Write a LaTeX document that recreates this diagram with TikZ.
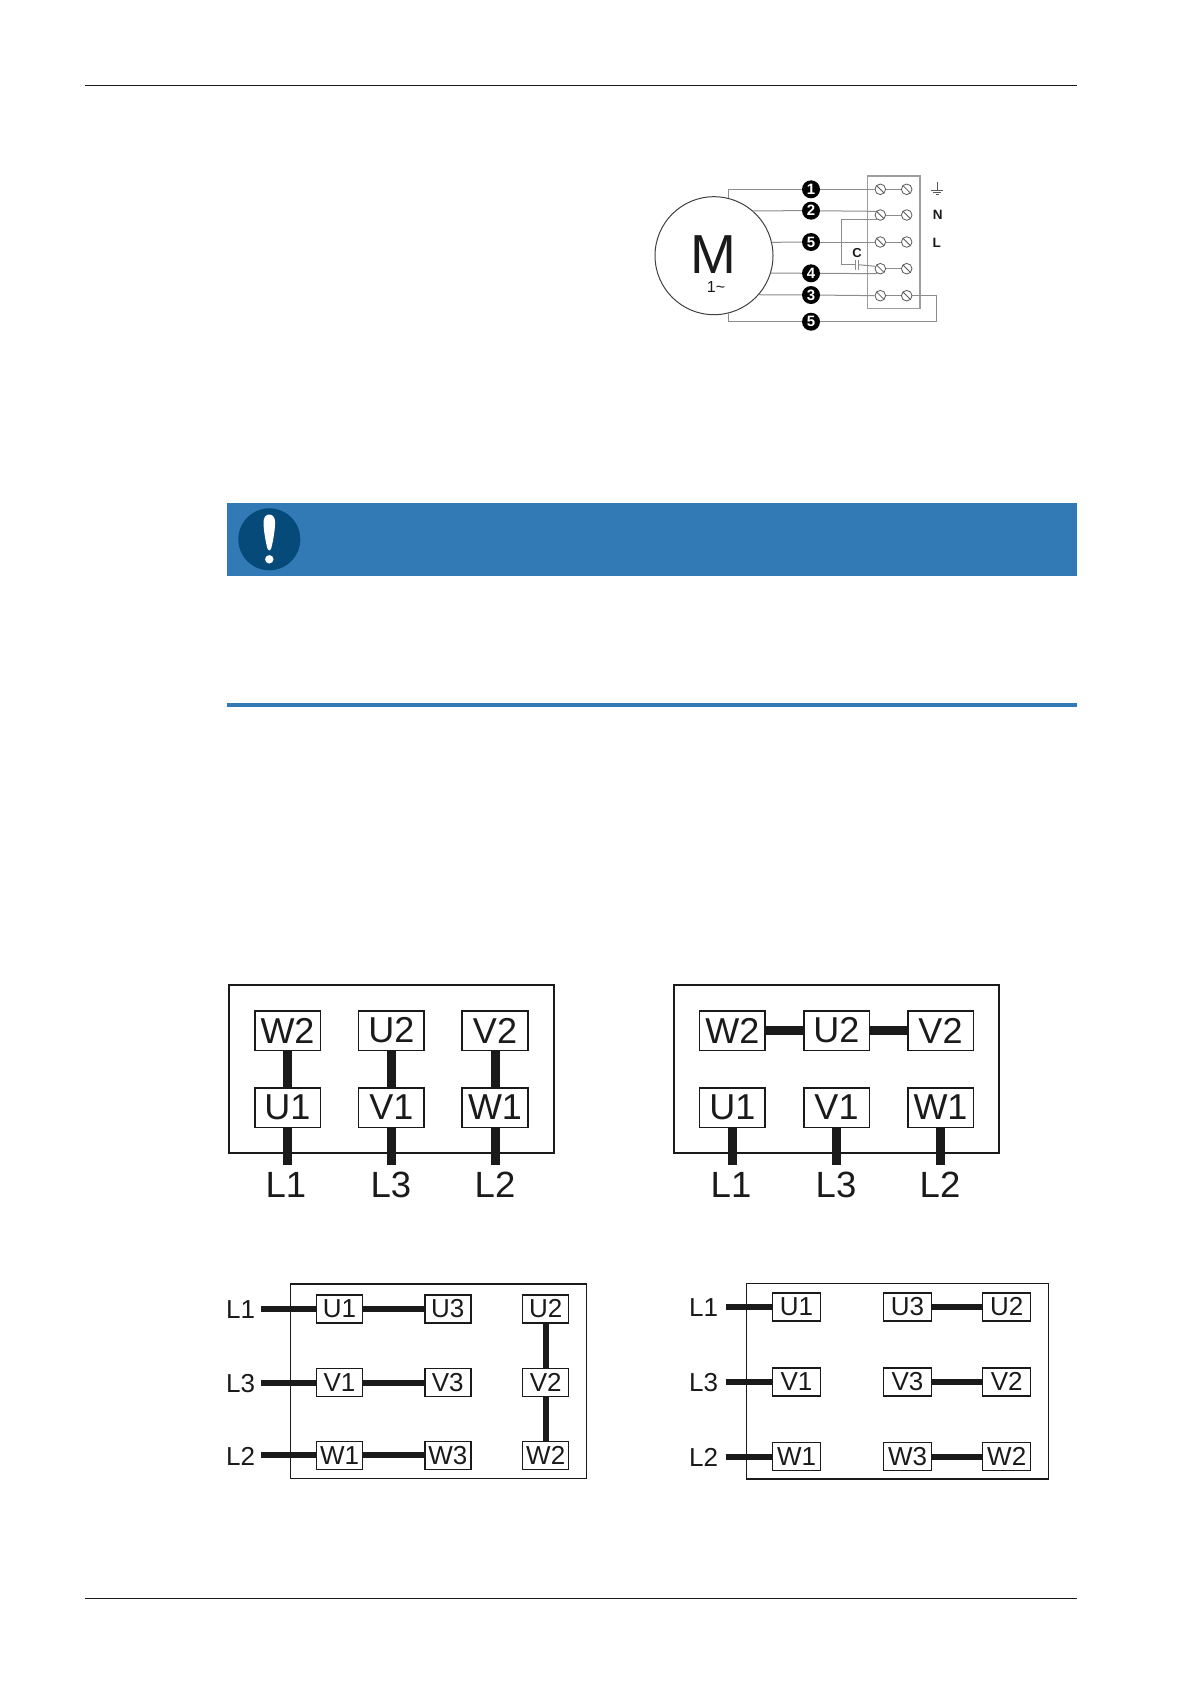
\documentclass[tikz,border=0pt]{standalone}
\usepackage{fontspec}
\setmainfont{Liberation Sans}
\definecolor{barblue}{HTML}{317AB5}
\definecolor{signblue}{HTML}{064A7A}
\definecolor{wiregray}{HTML}{8C8C8C}
\definecolor{boxgray}{HTML}{9E9E9E}
\definecolor{ink}{HTML}{1A1A1A}
\tikzset{
  rulethin/.style={line width=1pt,draw=ink},
  wire/.style={line width=1pt,draw=wiregray},
  termbox/.style={line width=1.2pt,draw=boxgray},
  terminal/.style={circle,draw=black!65,line width=.8pt,fill=white,minimum size=10.6pt,inner sep=0pt,
    path picture={\draw[black!65,line width=.8pt] (path picture bounding box.north west) -- (path picture bounding box.south east);}},
  badge/.style={circle,fill=black,text=white,font=\bfseries\fontsize{15}{15}\selectfont,minimum size=18pt,inner sep=0pt},
  frameA/.style={draw=ink,line width=2.2pt},
  frameC/.style={draw=ink,line width=1.5pt},
  bigbox/.style={draw=ink,line width=1.6pt,fill=white,minimum width=65.6pt,minimum height=39.6pt,inner sep=0pt,text=ink,font=\fontsize{36}{36}\selectfont},
  bigleg/.style={text=ink,inner sep=0pt,font=\fontsize{36.5}{36.5}\selectfont},
  smallbox/.style={draw=ink,line width=1.4pt,fill=white,minimum width=46pt,minimum height=28pt,inner sep=0pt,text=ink,font=\fontsize{26}{26}\selectfont},
  widebox/.style={smallbox,minimum width=48pt},
  smallleg/.style={anchor=west,text=ink,inner sep=0pt,font=\fontsize{26}{26}\selectfont},
  biglink/.style={draw=ink,line width=9pt},
  smalllink/.style={draw=ink,line width=6pt}
}
\begin{document}
\begin{tikzpicture}[x=1pt,y=-1pt]
\useasboundingbox (0,0) rectangle (1191,1684);
% page rules
\coordinate (hl) at (85,85.5); \coordinate (hr) at (1077,85.5);
\coordinate (fl) at (85,1598.3); \coordinate (fr) at (1077,1598.3);
\draw[rulethin] (hl) -- (hr);
\draw[rulethin] (fl) -- (fr);

% motor wiring diagram
\draw[termbox] (867.3,176) rectangle (920,308.7);
\node[circle,draw=black!75,line width=1pt,minimum size=118pt,inner sep=0pt] (motor) at (714,255.7) {};
\node[inner sep=0pt,text=ink,font=\fontsize{55}{55}\selectfont] (mlabel) at (713,254.5) {M};
\node[inner sep=0pt,text=ink,font=\fontsize{16}{16}\selectfont] (mphase) at (716,286.5) {1\char`~};
\node[badge] (b1) at (811,189.3) {1};
\node[badge] (b2) at (811,210.7) {2};
\node[badge] (b3) at (811,242) {5};
\node[badge] (b4) at (811,273.3) {4};
\node[badge] (b5) at (811,295) {3};
\node[badge] (b6) at (811,321.7) {5};
\node[terminal] (t1a) at (880.3,189.3) {};
\node[terminal] (t1b) at (906.7,189.3) {};
\node[terminal] (t2a) at (880.3,215) {};
\node[terminal] (t2b) at (906.7,215) {};
\node[terminal] (t3a) at (880.3,242) {};
\node[terminal] (t3b) at (906.7,242) {};
\node[terminal] (t4a) at (880.3,268.7) {};
\node[terminal] (t4b) at (906.7,268.7) {};
\node[terminal] (t5a) at (880.3,295.7) {};
\node[terminal] (t5b) at (906.7,295.7) {};
\draw[wire] (t1a) -- (t1b);
\draw[wire] (t2a) -- (t2b);
\draw[wire] (t3a) -- (t3b);
\draw[wire] (t4a) -- (t4b);
\draw[wire] (t5a) -- (t5b);
\draw[wire] (motor.76) |- (b1);
\draw[wire] (b1) -- (t1a);
\draw[wire] (motor.49.7) -- (b2);
\draw[wire] (b2) -- (t2a.140);
\draw[wire] (motor.13.4) -- (b3);
\draw[wire] (b3) -- (t3a);
\draw[wire] (motor.-17.3) -- (b4);
\draw[wire] (b4) -- (t4a.-120);
\draw[wire] (motor.-41.8) -- (b5);
\draw[wire] (b5) -- (t5a);
\draw[wire] (motor.-76) |- (b6);
\coordinate (ret) at (936.7,295.7);
\draw[wire] (b6) -| (ret) -- (t5b);
% capacitor
\coordinate (capl) at (855,264.7);
\coordinate (capr) at (858.2,264.7);
\coordinate (capc) at (841,264.7);
\draw[wire] (t2a.-120) -- (t2a.-120 -| capc) -- (capc) -- (capl);
\draw[wire] (capr) -- (t4a.155);
\draw[wire,line width=.8pt] ([yshift=-5pt]capl) -- ([yshift=5pt]capl);
\draw[wire,line width=.8pt] ([yshift=-5pt]capr) -- ([yshift=5pt]capr);
\node[inner sep=0pt,text=ink,font=\bfseries\fontsize{13}{13}\selectfont] (clabel) at (857,253.3) {C};
% earth, N, L
\coordinate (g0) at (937.3,181.5);
\coordinate (g1) at (937.3,190);
\draw[wire,line width=.9pt,draw=black!65] (g0) -- (g1);
\draw[wire,line width=.9pt,draw=black!65] ([xshift=-6pt]g1) -- ([xshift=6pt]g1);
\draw[wire,line width=.9pt,draw=black!65] ([xshift=-4pt,yshift=-2.4pt]g1) -- ([xshift=4pt,yshift=-2.4pt]g1);
\draw[wire,line width=.9pt,draw=black!65] ([xshift=-1.6pt,yshift=-4.6pt]g1) -- ([xshift=1.6pt,yshift=-4.6pt]g1);
\node[inner sep=0pt,text=ink,font=\bfseries\fontsize{13.5}{13.5}\selectfont] (nlabel) at (937.7,214.8) {N};
\node[inner sep=0pt,text=ink,font=\bfseries\fontsize{13.5}{13.5}\selectfont] (llabel) at (936.7,242.8) {L};

% notice bar
\fill[barblue] (227,503.3) rectangle (1077,575.7);
\fill[barblue] (227,703) rectangle (1077,707);
\fill[signblue] (269.3,539.3) circle[radius=31];
\fill[white] (263.5,522) .. controls (263.5,512) and (275.1,512) .. (275.1,522) .. controls (275.1,532) and (272,546) .. (271,549) .. controls (270.5,551) and (268.1,551) .. (267.6,549) .. controls (266.6,546) and (263.5,532) .. (263.5,522) -- cycle;
\fill[white] (269.3,559.3) circle[radius=4.2];

% panel A
\draw[frameA] (229,985.3) rectangle (554,1152.7);
\node[bigbox] (aw2) at (287.5,1030.5) {W2};
\node[bigbox] (au2) at (391.3,1030.5) {U2};
\node[bigbox] (av2) at (495,1030.5) {V2};
\node[bigbox] (au1) at (287.5,1107.5) {U1};
\node[bigbox] (av1) at (391.3,1107.5) {V1};
\node[bigbox] (aw1) at (495,1107.5) {W1};
\draw[biglink] (aw2) -- (au1);
\draw[biglink] (au2) -- (av1);
\draw[biglink] (av2) -- (aw1);
\coordinate (ae1) at (287.5,1164.7);
\coordinate (ae2) at (391.3,1164.7);
\coordinate (ae3) at (495,1164.7);
\draw[biglink] (au1) -- (ae1);
\draw[biglink] (av1) -- (ae2);
\draw[biglink] (aw1) -- (ae3);
\node[bigleg] (al1) at (286,1185) {L1};
\node[bigleg] (al3) at (391,1185) {L3};
\node[bigleg] (al2) at (495,1185) {L2};

% panel B
\draw[frameA] (673.7,985.3) rectangle (999,1152.7);
\node[bigbox] (bw2) at (732.3,1030.5) {W2};
\node[bigbox] (bu2) at (836.5,1030.5) {U2};
\node[bigbox] (bv2) at (940.5,1030.5) {V2};
\node[bigbox] (bu1) at (732.3,1107.5) {U1};
\node[bigbox] (bv1) at (836.5,1107.5) {V1};
\node[bigbox] (bw1) at (940.5,1107.5) {W1};
\draw[biglink] (bw2) -- (bu2);
\draw[biglink] (bu2) -- (bv2);
\coordinate (be1) at (732.3,1164.7);
\coordinate (be2) at (836.5,1164.7);
\coordinate (be3) at (940.5,1164.7);
\draw[biglink] (bu1) -- (be1);
\draw[biglink] (bv1) -- (be2);
\draw[biglink] (bw1) -- (be3);
\node[bigleg] (bl1) at (731,1185) {L1};
\node[bigleg] (bl3) at (836,1185) {L3};
\node[bigleg] (bl2) at (940,1185) {L2};

% panel C
\draw[frameC] (290.7,1284) rectangle (586.7,1478.3);
\node[smallbox] (cu1) at (339.5,1309) {U1};
\node[smallbox] (cu3) at (447.8,1309) {U3};
\node[smallbox] (cu2) at (545.7,1309) {U2};
\node[smallbox] (cv1) at (339.5,1382.5) {V1};
\node[smallbox] (cv3) at (447.8,1382.5) {V3};
\node[smallbox] (cv2) at (545.7,1382.5) {V2};
\node[smallbox] (cw1) at (339.5,1455.3) {W1};
\node[smallbox] (cw3) at (447.8,1455.3) {W3};
\node[smallbox] (cw2) at (545.7,1455.3) {W2};
\coordinate (cs1) at (261,1309);
\coordinate (cs2) at (261,1382.5);
\coordinate (cs3) at (261,1455.3);
\draw[smalllink] (cs1) -- (cu1);
\draw[smalllink] (cs2) -- (cv1);
\draw[smalllink] (cs3) -- (cw1);
\draw[smalllink] (cu1) -- (cu3);
\draw[smalllink] (cv1) -- (cv3);
\draw[smalllink] (cw1) -- (cw3);
\draw[smalllink] (cu2) -- (cv2);
\draw[smalllink] (cv2) -- (cw2);
\node[smallleg] (cl1) at (226,1310) {L1};
\node[smallleg] (cl3) at (226,1383.5) {L3};
\node[smallleg] (cl2) at (226,1456.3) {L2};

% panel D
\draw[frameC] (746.7,1283.7) rectangle (1048.3,1479);
\node[widebox] (du1) at (796.5,1306.9) {U1};
\node[widebox] (du3) at (907.5,1306.9) {U3};
\node[widebox] (du2) at (1006.7,1306.9) {U2};
\node[widebox] (dv1) at (796.5,1381.8) {V1};
\node[widebox] (dv3) at (907.5,1381.8) {V3};
\node[widebox] (dv2) at (1006.7,1381.8) {V2};
\node[widebox] (dw1) at (796.5,1456.5) {W1};
\node[widebox] (dw3) at (907.5,1456.5) {W3};
\node[widebox] (dw2) at (1006.7,1456.5) {W2};
\coordinate (ds1) at (725.7,1306.9);
\coordinate (ds2) at (725.7,1381.8);
\coordinate (ds3) at (725.7,1456.5);
\draw[smalllink] (ds1) -- (du1);
\draw[smalllink] (ds2) -- (dv1);
\draw[smalllink] (ds3) -- (dw1);
\draw[smalllink] (du3) -- (du2);
\draw[smalllink] (dv3) -- (dv2);
\draw[smalllink] (dw3) -- (dw2);
\node[smallleg] (dl1) at (689,1307.9) {L1};
\node[smallleg] (dl3) at (689,1382.8) {L3};
\node[smallleg] (dl2) at (689,1457.5) {L2};
\end{tikzpicture}
\end{document}
